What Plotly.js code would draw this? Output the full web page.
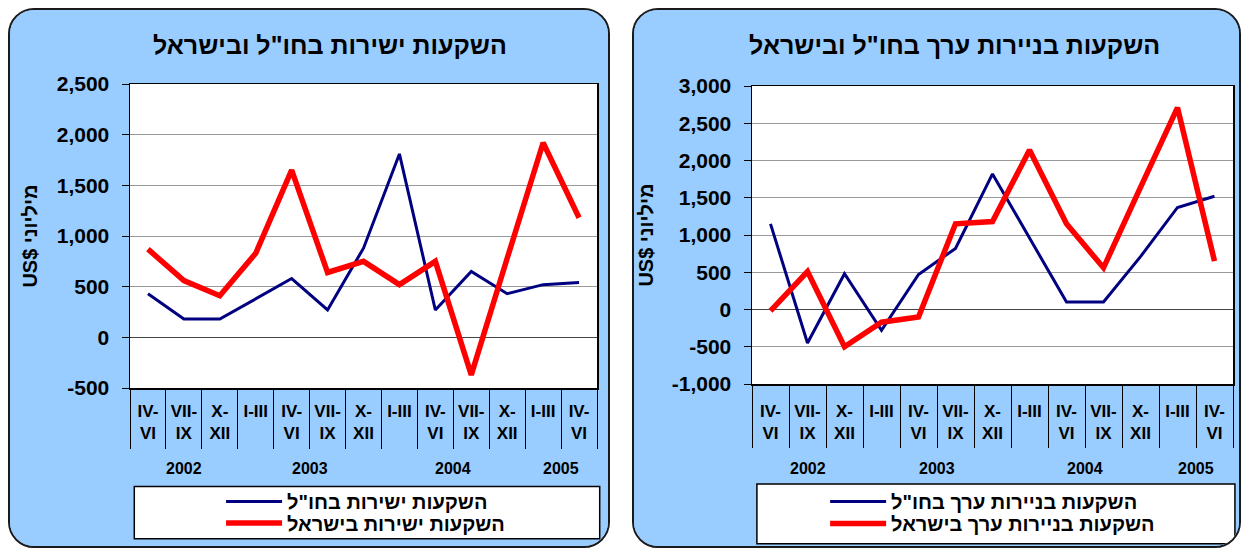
<!DOCTYPE html>
<html>
<head>
<meta charset="utf-8">
<script src="https://cdn.plot.ly/plotly-3.0.1.min.js"></script>
<style>
  html, body { margin: 0; padding: 0; background: #ffffff; width: 1241px; height: 548px; overflow: hidden; }
  .panel { position: absolute; box-sizing: border-box; border: 2px solid #1a1a1a; border-radius: 26px; overflow: hidden; background: #99ccff; }
  #p1 { left: 8px; top: 8px; width: 602px; height: 540px; }
  #p2 { left: 632px; top: 8px; width: 609px; height: 540px; }
</style>
</head>
<body>
<div id="p1" class="panel"></div>
<div id="p2" class="panel"></div>
<script>
// ---- data ----
const quarters = ['IV-<br>VI','VII-<br>IX','X-<br>XII','I-III','IV-<br>VI','VII-<br>IX','X-<br>XII','I-III','IV-<br>VI','VII-<br>IX','X-<br>XII','I-III','IV-<br>VI'];
const quarterYears = [2002,2002,2002,2003,2003,2003,2003,2004,2004,2004,2004,2005,2005];

const directTitle = 'השקעות ישירות בחו"ל ובישראל';
const directNames = ['השקעות ישירות בחו"ל', 'השקעות ישירות בישראל'];
const directAbroad = [430,180,180,380,580,270,880,1810,270,650,430,520,540];
const directIsrael = [870,560,410,830,1650,640,750,520,750,-370,780,1920,1180];
const directTickVals = [-500,0,500,1000,1500,2000,2500];
const directTickText = ['-500','0','500','1,000','1,500','2,000','2,500'];

const secTitle = 'השקעות בניירות ערך בחו"ל ובישראל';
const secNames = ['השקעות בניירות ערך בחו"ל', 'השקעות בניירות ערך בישראל'];
const secAbroad = [1150,-450,480,-280,470,820,1820,960,100,100,710,1370,1520];
const secIsrael = [-20,510,-500,-170,-100,1150,1180,2140,1150,560,1640,2710,650];
const secTickVals = [-1000,-500,0,500,1000,1500,2000,2500,3000];
const secTickText = ['-1,000','-500','0','500','1,000','1,500','2,000','2,500','3,000'];

const yTitle = 'US$ מיליוני';

// ---- helpers ----
const FONT = 'Arial, "Liberation Sans", sans-serif';
const idx = quarters.map((_, i) => i);
const boundaries = quarters.map((_, i) => i - 0.5).concat([quarters.length - 0.5]);
const yearGroups = [];
quarterYears.forEach((y, i) => {
  const g = yearGroups[yearGroups.length - 1];
  if (g && g.year === y) g.end = i; else yearGroups.push({year: y, start: i, end: i});
});
const yearBounds = [-0.5].concat(yearGroups.map(g => g.end + 0.5));
const gridEvery = [3.5, 7.5, 11.5];

function legendCfg(x, y) {
  return {
    x: x, xref: 'paper', xanchor: 'left', y: y, yref: 'paper', yanchor: 'middle',
    bgcolor: 'rgba(0,0,0,0)', borderwidth: 0, itemwidth: 56,
    font: {family: FONT, size: 20, color: '#000', weight: 700}
  };
}

function build(div, o) {
  const traces = [
    {x: idx, y: o.blue, name: o.names[0], type: 'scatter', mode: 'lines',
     line: {color: '#000080', width: 3}, cliponaxis: false, legend: 'legend'},
    {x: idx, y: o.red, name: o.names[1], type: 'scatter', mode: 'lines',
     line: {color: '#ff0000', width: 5.5}, cliponaxis: false, legend: 'legend2'}
  ];
  const ann = yearGroups.map(g => ({
    x: (g.start + g.end) / 2, xref: 'x', y: o.yearY, yref: 'paper',
    text: String(g.year), showarrow: false, xanchor: 'center', yanchor: 'middle',
    font: {family: FONT, size: 16, color: '#000', weight: 700}
  }));
  const layout = {
    width: o.w, height: o.h,
    margin: Object.assign({pad: 0, autoexpand: false}, o.m),
    paper_bgcolor: '#99ccff', plot_bgcolor: '#ffffff',
    showlegend: true,
    title: {text: o.title, x: o.tx, xref: 'container', xanchor: 'center',
            y: o.ty, yref: 'container', yanchor: 'middle',
            font: {family: FONT, size: 25, color: '#000', weight: 700}},
    xaxis: {
      type: 'linear', range: [-0.5, quarters.length - 0.5], fixedrange: true,
      tickmode: 'array', tickvals: idx, ticktext: quarters, ticks: '',
      ticklabelstandoff: o.qStand,
      tickfont: {family: FONT, size: 17, color: '#000', weight: 700},
      showgrid: false, zeroline: false,
      showline: true, linecolor: '#000', linewidth: 1.5, mirror: true,
      minor: {tickmode: 'array', tickvals: boundaries, ticks: 'outside',
              ticklen: o.qLen, tickcolor: '#000', tickwidth: 1, showgrid: false}
    },
    xaxis2: {
      type: 'linear', range: [-0.5, quarters.length - 0.5], overlaying: 'x', anchor: 'y',
      side: 'bottom', fixedrange: true,
      tickmode: 'array', tickvals: yearBounds, ticktext: yearBounds.map(() => ''),
      ticks: 'outside', ticklen: o.yLen, tickcolor: '#000', tickwidth: 1,
      showgrid: false, zeroline: false, showline: false, showticklabels: false,
      minor: {tickmode: 'array', tickvals: gridEvery, ticks: '', showgrid: true,
              gridcolor: '#999999', gridwidth: 1}
    },
    yaxis: {
      range: o.range, fixedrange: true,
      tickmode: 'array', tickvals: o.tv, ticktext: o.tt,
      ticks: 'outside', ticklen: 7, tickcolor: '#000', tickwidth: 1,
      ticklabelstandoff: o.yStand,
      tickfont: {family: FONT, size: 21, color: '#000', weight: 700},
      showgrid: true, gridcolor: '#999999', gridwidth: 1,
      zeroline: true, zerolinecolor: '#444444', zerolinewidth: 1.5,
      showline: true, linecolor: '#000', linewidth: 1.5, mirror: true,
      title: {text: yTitle, standoff: o.yts,
              font: {family: FONT, size: 20, color: '#000', weight: 700}}
    },
    legend: legendCfg(o.lx, o.ly1),
    legend2: legendCfg(o.lx, o.ly2),
    shapes: [{
      type: 'rect', xref: 'paper', yref: 'paper', x0: o.lb[0], x1: o.lb[1], y0: o.lb[2], y1: o.lb[3],
      fillcolor: '#ffffff', line: {color: '#000', width: 1.5}, layer: 'below'
    }],
    annotations: ann
  };
  Plotly.newPlot(div, traces, layout, {displayModeBar: false, staticPlot: true});
}

build('p1', {
  w: 598, h: 536, m: {l: 120, r: 11, t: 74, b: 158},
  title: directTitle, tx: 0.535, ty: 0.9347,
  names: directNames, blue: directAbroad, red: directIsrael,
  range: [-500, 2500], tv: directTickVals, tt: directTickText,
  yearY: -0.2662, qLen: 59, yLen: 94, qStand: 7, yStand: 8, yts: 13,
  lx: 0.195, ly1: -0.3737, ly2: -0.4443, lb: [0.0092, 1.0058, -0.3243, -0.4962]
});
build('p2', {
  w: 605, h: 536, m: {l: 118, r: 6, t: 76, b: 162},
  title: secTitle, tx: 0.530, ty: 0.9347,
  names: secNames, blue: secAbroad, red: secIsrael,
  range: [-1000, 3000], tv: secTickVals, tt: secTickText,
  yearY: -0.285, qLen: 62, yLen: 98, qStand: 11, yStand: 8, yts: 13,
  lx: 0.152, ly1: -0.3946, ly2: -0.4683, lb: [0.0102, 1.004, -0.3352, -0.5364]
});
</script>
</body>
</html>
